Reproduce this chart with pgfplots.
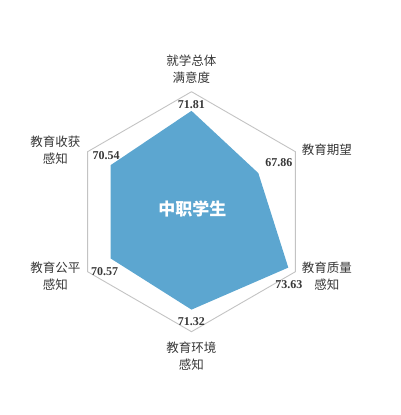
\documentclass[border=0pt]{standalone}
\usepackage{pgfplots}
\pgfplotsset{compat=1.18}
\usepgfplotslibrary{polar}
\usepackage{fontspec}
\setmainfont{Liberation Serif}
\newfontfamily\cjk{Noto Sans CJK SC}
\definecolor{fillblue}{RGB}{92,166,208}
\definecolor{gridgray}{RGB}{195,195,195}
\definecolor{txt}{RGB}{55,55,55}
\begin{document}
\begin{tikzpicture}
\begin{polaraxis}[
  at={(0,0)}, anchor=center,
  width=240pt, height=240pt, scale only axis,
  % radius 0 stands for a score of 55
  y coord trafo/.code={\pgfmathparse{#1-55}},
  y coord inv trafo/.code={\pgfmathparse{#1+55}},
  ymin=55, ymax=75,
  xmin=0, xmax=360,
  hide axis,
  clip=false,
]
% outer hexagon
\addplot[gridgray, line width=0.9pt] coordinates {
  (90,75) (30,75) (-30,75) (-90,75) (-150,75) (150,75) (90,75)};
% data
\addplot[draw=none, fill=fillblue] coordinates {
  (90,71.81) (30,67.86) (-30,73.63) (-90,71.32) (-150,70.57) (150,70.54) (90,71.81)};
% values
\begin{scope}[font=\fontsize{12}{12}\selectfont\bfseries, text=txt]
\node at ([shift={(0pt,-13pt)}]axis cs:90,75) {71.81};
\node at ([shift={(-16.5pt,-11pt)}]axis cs:30,75) {67.86};
\node at ([shift={(-6.5pt,-13pt)}]axis cs:-30,75) {73.63};
\node at ([shift={(0pt,10pt)}]axis cs:-90,75) {71.32};
\node at ([shift={(17pt,0pt)}]axis cs:-150,75) {70.57};
\node at ([shift={(18.5pt,-4pt)}]axis cs:150,75) {70.54};
\end{scope}
% categories
\begin{scope}[font=\cjk\fontsize{12.5}{17}\selectfont, text=txt, align=center]
\node at ([shift={(0pt,23pt)}]axis cs:90,75) {就学总体\\满意度};
\node at ([shift={(31.5pt,2pt)}]axis cs:30,75) {教育期望};
\node at ([shift={(31.5pt,-4pt)}]axis cs:-30,75) {教育质量\\感知};
\node at ([shift={(0pt,-24pt)}]axis cs:-90,75) {教育环境\\感知};
\node at ([shift={(-32.3pt,-4pt)}]axis cs:-150,75) {教育公平\\感知};
\node at ([shift={(-32.3pt,2pt)}]axis cs:150,75) {教育收获\\感知};
\end{scope}
\node[text=white, font=\cjk\bfseries\fontsize{17}{17}\selectfont] at ([shift={(0.8pt,2.7pt)}]axis cs:0,55) {中职学生};
\coordinate (O) at (axis cs:0,55);
\end{polaraxis}
\pgfresetboundingbox
\path[use as bounding box] (O) ++(-191.5pt,-203.3pt) rectangle ++(400pt,415pt);
\end{tikzpicture}
\end{document}
